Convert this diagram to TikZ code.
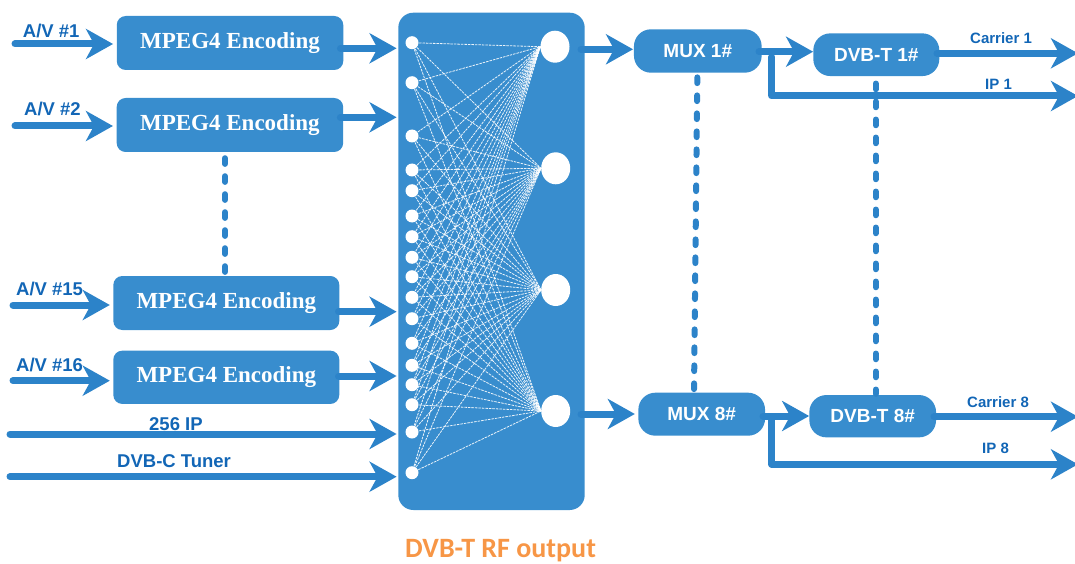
\documentclass[tikz,border=0pt]{standalone}
\usepackage{fontspec}
\setmainfont{Liberation Serif}
\setsansfont{Liberation Sans}
\newfontfamily\calib{Carlito}
\usetikzlibrary{arrows.meta,shapes.geometric,calc}
\pgfdeclarelayer{back}
\pgfdeclarelayer{mid}
\pgfsetlayers{back,mid,main}
\definecolor{boxblue}{RGB}{56,141,206}
\definecolor{arrblue}{RGB}{44,131,201}
\definecolor{lblblue}{RGB}{18,102,182}
\definecolor{rforange}{RGB}{247,150,70}
\begin{document}
\begin{tikzpicture}[x=1pt,y=-1pt,
  encbox/.style={fill=boxblue,rounded corners=9pt,minimum width=226.5pt,minimum height=54pt,text=white,font=\bfseries\fontsize{23}{23}\selectfont,inner sep=0},
  modbox/.style={fill=boxblue,rounded corners=17pt,minimum width=127pt,minimum height=43pt,text=white,font=\sffamily\bfseries\fontsize{19}{19}\selectfont,inner sep=0},
  lbl/.style={anchor=base west,inner sep=0,text=lblblue,font=\sffamily\bfseries\fontsize{18.5}{18.5}\selectfont},
  slbl/.style={anchor=base west,inner sep=0,text=lblblue,font=\sffamily\bfseries\fontsize{15}{15}\selectfont},
  arr/.style={draw=arrblue,line width=7pt,line cap=round,line join=round,-{Stealth[length=27pt,width=30pt,inset=8pt]}},
  dotline/.style={draw=arrblue,line width=6pt,line cap=round,dash pattern=on 5.7pt off 12.3pt},
  inport/.style={circle,fill=white,minimum size=13pt,inner sep=0},
  outport/.style={ellipse,fill=white,minimum width=29pt,minimum height=32pt,inner sep=0},
  web/.style={draw=white,line width=0.8pt,dash pattern=on 2.5pt off 1pt,opacity=0.9},
]
\useasboundingbox (0,0) rectangle (1075,564);

% central panel
\begin{pgfonlayer}{back}
\node[fill=boxblue,rounded corners=15pt,minimum width=186.4pt,minimum height=497.3pt,inner sep=0] (panel) at (491.5,261.35) {};
\end{pgfonlayer}

% ports
\foreach \y [count=\i] in {42.7,82.7,136,170,190.7,216,236.7,257.3,276.7,297.3,318.7,343.3,365.3,384.7,404.7,432,472.7}
  \node[inport] (d\i) at (412,\y) {};
\node[outport] (c1) at (555,46.7) {};
\node[outport] (c2) at (555.7,168.3) {};
\node[outport] (c3) at (555.7,290) {};
\node[outport] (c4) at (555.7,411) {};

\begin{pgfonlayer}{mid}
\foreach \i in {1,...,17}
  \foreach \j in {1,...,4}
    \draw[web] (d\i.center) -- (c\j.west);
\end{pgfonlayer}

% encoders
\node[encbox] (b1) at (230,43) {MPEG4 Encoding};
\node[encbox] (b2) at (229.9,125) {MPEG4 Encoding};
\node[encbox,minimum width=226pt] (b3) at (226.3,303) {MPEG4 Encoding};
\node[encbox,minimum width=226pt,minimum height=53.3pt] (b4) at (226.3,377.3) {MPEG4 Encoding};

% mux / modulators
\node[modbox,minimum width=127.7pt,minimum height=43.4pt] (mux1) at (697.8,51) {MUX 1\#};
\node[modbox,minimum width=126.7pt] (mux8) at (701.7,414.2) {MUX 8\#};
\node[modbox,minimum width=126pt,minimum height=42.7pt] (dvb1) at (876.3,54.7) {DVB-T 1\#};
\node[modbox,minimum width=126.7pt,minimum height=42.3pt] (dvb8) at (872.7,416.2) {DVB-T 8\#};

% dotted continuations
\draw[dotline] ($(b2.south)+(-4.9,6)$) -- ($(b3.north)+(-1.3,-1.5)$);
\draw[dotline] ($(mux1.south)+(-0.5,4.5)$) -- ($(mux8.north)+(-7.7,-1)$);
\draw[dotline] ($(dvb1.south)+(-0.6,7.3)$) -- ($(dvb8.north)+(3,-1)$);

% inputs
\coordinate (s1) at (15,44);
\coordinate (s2) at (15,126);
\coordinate (s3) at (13,305);
\coordinate (s4) at (13,380.7);
\draw[arr,shorten >=3.5pt] (s1) -- (s1 -| b1.west);
\draw[arr,shorten >=3.5pt] (s2) -- (s2 -| b2.west);
\draw[arr,shorten >=3.3pt] (s3) -- (s3 -| b3.west);
\draw[arr,shorten >=3.3pt] (s4) -- (s4 -| b4.west);

\coordinate (o1) at ($(b1.east)+(-3,5.3)$);
\coordinate (o2) at ($(b2.east)+(-3,-7.7)$);
\coordinate (o3) at ($(b3.east)+(-1,8.7)$);
\coordinate (o4) at ($(b4.east)+(-1,-1.3)$);
\draw[arr,shorten >=1.5pt] (o1) -- (o1 -| panel.west);
\draw[arr,shorten >=1.5pt] (o2) -- (o2 -| panel.west);
\draw[arr,shorten >=1.5pt] (o3) -- (o3 -| panel.west);
\draw[arr,shorten >=1.5pt] (o4) -- (o4 -| panel.west);

\coordinate (ip) at (10,434);
\coordinate (tu) at (10,476.7);
\draw[arr,shorten >=1.5pt] (ip) -- (ip -| panel.west);
\draw[arr,shorten >=1.5pt] (tu) -- (tu -| panel.west);

% outputs
\coordinate (p1) at (581,49.3);
\coordinate (p8) at (581,414);
\draw[arr,shorten >=0.7pt] (p1) -- (p1 -| mux1.west);
\draw[arr,shorten >=3.3pt] (p8) -- (p8 -| mux8.west);
\coordinate (m1) at (759,51.7);
\coordinate (m8) at (763,416);
\draw[arr] (m1) -- (m1 -| dvb1.west);
\draw[arr] (m8) -- (m8 -| dvb8.west);
\coordinate (k1) at (937,53.3);
\coordinate (k8) at (934,416.7);
\coordinate (e1) at (1078,53.3);
\coordinate (e8) at (1078,416.7);
\draw[arr] (k1) -- (e1);
\draw[arr] (k8) -- (e8);
\coordinate (r1) at (771.7,57);
\coordinate (r8) at (771.7,418.5);
\coordinate (f1) at (1078,96);
\coordinate (f8) at (1078,464.3);
\draw[arr] (r1) |- (f1);
\draw[arr] (r8) |- (f8);

% labels
\node[lbl] (l1) at (22.7,37.3) {A/V \#1};
\node[lbl] (l2) at (24,115.7) {A/V \#2};
\node[lbl] (l15) at (16,295) {A/V \#15};
\node[lbl] (l16) at (16,371) {A/V \#16};
\node[lbl] (lip) at (149,430) {256 IP};
\node[lbl] (ltu) at (117,467) {DVB-C Tuner};
\node[slbl] (lc1) at (970,43.3) {Carrier 1};
\node[slbl] (li1) at (985,89.3) {IP 1};
\node[slbl] (lc8) at (967,407.3) {Carrier 8};
\node[slbl] (li8) at (982,453.3) {IP 8};
\node[anchor=base west,inner sep=0,text=rforange,font=\calib\bfseries\fontsize{28}{28}\selectfont] (title) at (405,557.5) {DVB-T RF output};
\end{tikzpicture}
\end{document}
